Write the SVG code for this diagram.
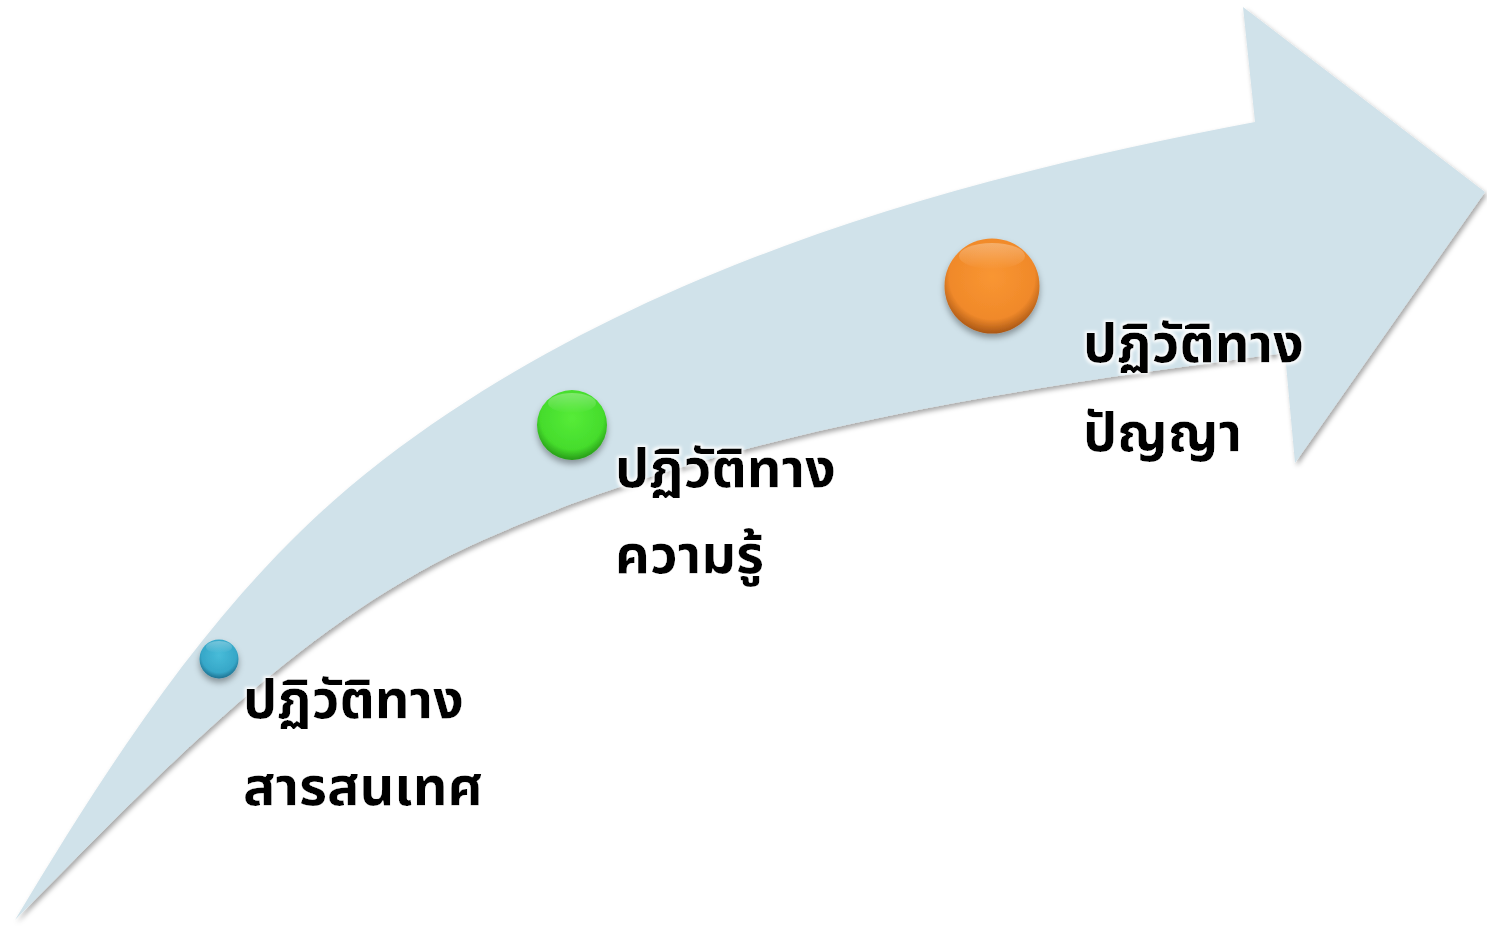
<svg xmlns="http://www.w3.org/2000/svg" width="1487" height="926" viewBox="0 0 1487 926">
  <defs>
    <filter id="shapeShadow" x="-5%" y="-5%" width="110%" height="115%">
      <feDropShadow dx="2" dy="3" stdDeviation="2.5" flood-color="#000" flood-opacity="0.35"/>
    </filter>
    <filter id="ballShadow" x="-30%" y="-30%" width="160%" height="170%">
      <feDropShadow dx="0" dy="4" stdDeviation="3" flood-color="#000" flood-opacity="0.35"/>
    </filter>
    <filter id="textGlow" x="-10%" y="-20%" width="120%" height="150%">
      <feMorphology in="SourceAlpha" operator="dilate" radius="1.5" result="d"/>
      <feGaussianBlur in="d" stdDeviation="1.5" result="b"/>
      <feFlood flood-color="#ffffff" flood-opacity="0.9"/>
      <feComposite in2="b" operator="in" result="glow"/>
      <feMerge><feMergeNode in="glow"/><feMergeNode in="SourceGraphic"/></feMerge>
    </filter>
    <radialGradient id="gBlue" cx="50%" cy="40%" r="60%">
      <stop offset="0" stop-color="#48bcd9"/>
      <stop offset="0.75" stop-color="#36a7c8"/>
      <stop offset="1" stop-color="#1d7090"/>
    </radialGradient>
    <radialGradient id="gGreen" cx="50%" cy="40%" r="60%">
      <stop offset="0" stop-color="#56ec38"/>
      <stop offset="0.75" stop-color="#45dc2c"/>
      <stop offset="1" stop-color="#279a18"/>
    </radialGradient>
    <radialGradient id="gOrange" cx="50%" cy="40%" r="60%">
      <stop offset="0" stop-color="#f99632"/>
      <stop offset="0.75" stop-color="#f0892a"/>
      <stop offset="1" stop-color="#a85615"/>
    </radialGradient>
    <linearGradient id="gShine" x1="0" y1="0" x2="0" y2="1">
      <stop offset="0" stop-color="#ffffff" stop-opacity="0.3"/>
      <stop offset="1" stop-color="#ffffff" stop-opacity="0"/>
    </linearGradient>
  </defs>
  <style>
    .lbl { font-family: "Noto Sans Thai", "Leelawadee UI", Tahoma, "DejaVu Sans", sans-serif; font-weight: bold; font-size: 54px; fill: #000000; }
    .arrow { fill: #d0e2ea; }
  </style>
  <rect width="1487" height="926" fill="#ffffff"/>
  <g id="arrow">
    <path class="arrow" filter="url(#shapeShadow)" d="M15,920 C116,752 227,579 383,460 C631,270 948,180 1255,122 L1243,7 L1485,192 L1295,463 L1285,353 C1014,389 733,429 483,540 C300,621 156,778 15,920 Z"/>
  </g>
  <g id="connectors"></g>
  <g id="node-information">
    <circle cx="219" cy="659" r="19.5" fill="url(#gBlue)" filter="url(#ballShadow)"/>
    <ellipse cx="219" cy="647" rx="13" ry="6" fill="url(#gShine)"/>
    <text class="lbl" filter="url(#textGlow)"><tspan x="243" y="718">ปฏิวัติทาง</tspan><tspan x="243" y="805">สารสนเทศ</tspan></text>
  </g>
  <g id="node-knowledge">
    <circle cx="572" cy="425" r="35" fill="url(#gGreen)" filter="url(#ballShadow)"/>
    <ellipse cx="572" cy="403" rx="24" ry="10" fill="url(#gShine)"/>
    <text class="lbl" filter="url(#textGlow)"><tspan x="615" y="487">ปฏิวัติทาง</tspan><tspan x="615" y="573">ความรู้</tspan></text>
  </g>
  <g id="node-wisdom">
    <circle cx="992" cy="286" r="47.5" fill="url(#gOrange)" filter="url(#ballShadow)"/>
    <ellipse cx="992" cy="256" rx="33" ry="13" fill="url(#gShine)"/>
    <text class="lbl" filter="url(#textGlow)"><tspan x="1083" y="362">ปฏิวัติทาง</tspan><tspan x="1083" y="451">ปัญญา</tspan></text>
  </g>
</svg>
